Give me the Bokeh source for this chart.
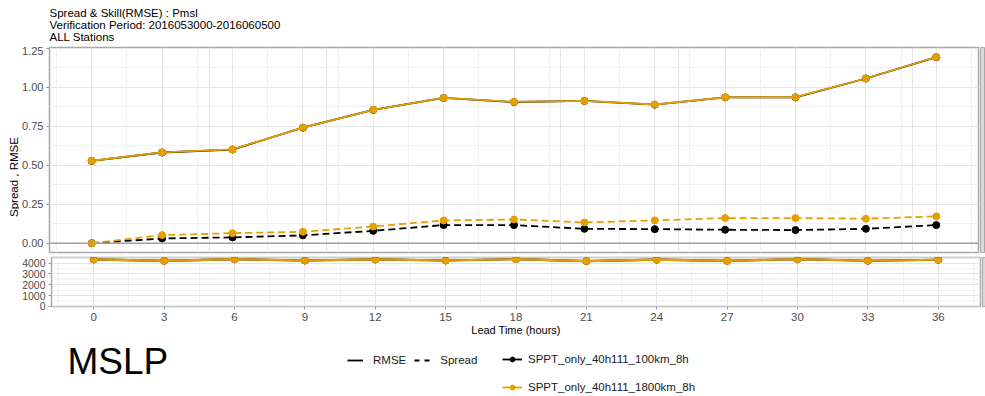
from bokeh.plotting import figure
from bokeh.layouts import column, row
from bokeh.models import (FixedTicker, PrintfTickFormatter, Range1d, Span, Label,
                          Legend, LegendItem, Grid)
from bokeh.embed import file_html
from bokeh.resources import INLINE

# ---------------- data ----------------
lead_time = [0, 3, 6, 9, 12, 15, 18, 21, 24, 27, 30, 33, 36]
rmse_100km = [0.528, 0.582, 0.601, 0.741, 0.855, 0.932, 0.906, 0.913, 0.889, 0.936, 0.936, 1.057, 1.194]
rmse_1800km = [0.529, 0.583, 0.602, 0.742, 0.856, 0.932, 0.907, 0.913, 0.890, 0.936, 0.937, 1.057, 1.195]
spread_100km = [0.0, 0.030, 0.037, 0.050, 0.079, 0.116, 0.116, 0.092, 0.090, 0.086, 0.084, 0.092, 0.116]
spread_1800km = [0.0, 0.052, 0.064, 0.073, 0.107, 0.146, 0.152, 0.133, 0.146, 0.161, 0.161, 0.157, 0.172]
count_100km = [4350, 4225, 4370, 4250, 4350, 4250, 4380, 4200, 4330, 4220, 4380, 4230, 4320]
count_1800km = [4350, 4225, 4370, 4250, 4350, 4250, 4380, 4200, 4330, 4220, 4380, 4230, 4320]

series_names = ["SPPT_only_40h111_100km_8h", "SPPT_only_40h111_1800km_8h"]
series_colors = ["#000000", "#E69F00"]

x_ticks = lead_time
x_minor = [-1.5, 1.5, 4.5, 7.5, 10.5, 13.5, 16.5, 19.5, 22.5, 25.5, 28.5, 31.5, 34.5, 37.5]
y_ticks_top = [0.0, 0.25, 0.5, 0.75, 1.0, 1.25]
y_minor_top = [0.125, 0.375, 0.625, 0.875, 1.125]
y_ticks_bottom = [0, 1000, 2000, 3000, 4000]
y_minor_bottom = [500, 1500, 2500, 3500, 4500]

title_lines = ["Spread & Skill(RMSE) : Pmsl",
               "Verification Period: 2016053000-2016060500",
               "ALL Stations"]
y_label = "Spread , RMSE"
x_label = "Lead Time (hours)"
big_label = "MSLP"
metric_names = ["RMSE", "Spread"]

# ---------------- style / layout constants ----------------
FONT = "Liberation Sans"
TICK_COL = "#4d4d4d"
GRID_MAJ = "#e6e6e6"
GRID_MIN = "#f1f1f1"
BORDER = "#a8a8a8"
LABEL_W = 19
LEFT = 30
RIGHT = 2
STRIP_W = 5
FRAME_W = 929
PAGE_W = LABEL_W + LEFT + FRAME_W + RIGHT + STRIP_W
TITLE_H = 46
A_TOP, A_FRAME, A_BOT = 1, 205, 3
B_TOP, B_FRAME, B_BOT = 2, 49, 33
PANELS_H = A_TOP + A_FRAME + A_BOT + B_TOP + B_FRAME + B_BOT
LEG_H = 395 - TITLE_H - PANELS_H

x_range = Range1d(-1.8, 37.8)


def blank(width, height):
    f = figure(width=width, height=height, x_range=(0, width), y_range=(0, height),
               output_backend="svg", toolbar_location=None, title=None,
               x_axis_location=None, y_axis_location=None,
               min_border_left=0, min_border_right=0, min_border_top=0, min_border_bottom=0)
    f.outline_line_color = None
    f.grid.visible = False
    return f


def style_axis(ax, size="11px"):
    ax.axis_line_color = None
    ax.major_tick_line_color = "#999999"
    ax.major_tick_out = 3
    ax.major_tick_in = 0
    ax.minor_tick_line_color = None
    ax.major_label_text_font = FONT
    ax.major_label_text_font_size = size
    ax.major_label_text_color = TICK_COL
    ax.major_label_standoff = 2


# ---------------- title block ----------------
pT = blank(PAGE_W, TITLE_H)
for k, t in enumerate(title_lines):
    pT.add_layout(Label(x=LABEL_W + LEFT, y=TITLE_H - 12 - 12 * k, text=t,
                        text_align="left", text_baseline="middle", text_font=FONT,
                        text_font_size="11.5px", text_color="#000000"))

# ---------------- y-axis title ----------------
pL = blank(LABEL_W, PANELS_H)
pL.add_layout(Label(x=13, y=PANELS_H - (A_TOP + (A_FRAME + A_BOT + B_TOP + B_FRAME) / 2),
                    text=y_label, angle=1.5707963, text_align="center", text_baseline="middle",
                    text_font=FONT, text_font_size="11.5px", text_color="#000000"))

# ---------------- top panel ----------------
pA = figure(frame_width=FRAME_W, frame_height=A_FRAME, x_range=x_range,
            y_range=Range1d(-0.06, 1.256), output_backend="svg",
            toolbar_location=None, title=None, x_axis_location=None,
            min_border_left=LEFT, min_border_right=RIGHT,
            min_border_top=A_TOP, min_border_bottom=A_BOT)
pA.outline_line_color = BORDER
pA.outline_line_width = 1.5
pA.yaxis.ticker = FixedTicker(ticks=y_ticks_top, minor_ticks=y_minor_top)
pA.yaxis.formatter = PrintfTickFormatter(format="%.2f")
pA.ygrid.grid_line_color = GRID_MAJ
pA.ygrid.minor_grid_line_color = GRID_MIN
pA.add_layout(Grid(dimension=0, ticker=FixedTicker(ticks=x_ticks, minor_ticks=x_minor),
                   grid_line_color=GRID_MAJ, minor_grid_line_color=GRID_MIN))
pA.add_layout(Span(location=0, dimension="width", line_color="#a0a0a0", line_width=1.5))
style_axis(pA.yaxis[0])

rmse = [rmse_100km, rmse_1800km]
spread = [spread_100km, spread_1800km]
for i in range(2):
    pA.line(lead_time, spread[i], line_color=series_colors[i], line_width=1.8, line_dash="7 4")
    pA.scatter(lead_time, spread[i], size=7, color=series_colors[i], marker="circle")
for i in range(2):
    pA.line(lead_time, rmse[i], line_color=series_colors[i], line_width=1.8)
    pA.scatter(lead_time, rmse[i], size=7, color=series_colors[i], marker="circle")

# ---------------- bottom panel ----------------
pB = figure(frame_width=FRAME_W, frame_height=B_FRAME, x_range=x_range,
            y_range=Range1d(-20, 4530), output_backend="svg",
            toolbar_location=None, title=None,
            min_border_left=LEFT, min_border_right=RIGHT,
            min_border_top=B_TOP, min_border_bottom=B_BOT)
pB.outline_line_color = BORDER
pB.outline_line_width = 1.5
pB.xaxis.ticker = FixedTicker(ticks=x_ticks, minor_ticks=x_minor)
pB.yaxis.ticker = FixedTicker(ticks=y_ticks_bottom, minor_ticks=y_minor_bottom)
pB.xgrid.grid_line_color = GRID_MAJ
pB.xgrid.minor_grid_line_color = GRID_MIN
pB.ygrid.grid_line_color = GRID_MAJ
pB.ygrid.minor_grid_line_color = GRID_MIN
style_axis(pB.xaxis[0], "11.5px")
style_axis(pB.yaxis[0], "10.5px")
pB.xaxis.axis_label = x_label
pB.xaxis.axis_label_text_font = FONT
pB.xaxis.axis_label_text_font_size = "11px"
pB.xaxis.axis_label_text_font_style = "normal"
pB.xaxis.axis_label_text_color = "#000000"
pB.xaxis.axis_label_standoff = 0

counts = [count_100km, count_1800km]
for i in range(2):
    pB.line(lead_time, counts[i], line_color=series_colors[i], line_width=2.2)
    pB.scatter(lead_time, counts[i], size=7, color=series_colors[i], marker="circle")


# ---------------- facet strips (cut off at right) ----------------
def strip(top, fh, bottom):
    s = figure(frame_width=STRIP_W, frame_height=fh, output_backend="svg",
               toolbar_location=None, title=None, x_axis_location=None, y_axis_location=None,
               min_border_left=0, min_border_right=0, min_border_top=top,
               min_border_bottom=bottom)
    s.background_fill_color = "#d9d9d9"
    s.outline_line_color = BORDER
    s.grid.visible = False
    return s


sA = strip(A_TOP, A_FRAME, A_BOT)
sB = strip(B_TOP, B_FRAME, B_BOT)

# ---------------- legend block ----------------
pC = blank(PAGE_W, LEG_H)
off = [-50, -40]  # dummy points kept outside the visible area
r_rmse = pC.line(x=off, y=off, line_color="#000000", line_width=1.8)
r_spread = pC.line(x=off, y=off, line_color="#000000", line_width=1.8, line_dash="5 5")
leg1 = Legend(items=[LegendItem(label=metric_names[0], renderers=[r_rmse]),
                     LegendItem(label=metric_names[1], renderers=[r_spread])],
              orientation="horizontal", location=(347, LEG_H - 27), glyph_width=16,
              glyph_height=12, label_height=12, label_standoff=10, spacing=8, padding=0,
              margin=0, label_text_font=FONT, label_text_font_size="11.5px",
              label_text_color="#1a1a1a", background_fill_alpha=0, border_line_alpha=0)
pC.add_layout(leg1, "center")

items2 = []
for i in range(2):
    rl = pC.line(x=off, y=off, line_color=series_colors[i], line_width=1.8)
    rs = pC.scatter(x=off, y=off, size=7, color=series_colors[i], marker="circle")
    items2.append(LegendItem(label=series_names[i], renderers=[rl, rs]))
leg2 = Legend(items=items2, orientation="vertical", location=(502, LEG_H - 54), glyph_width=20,
              glyph_height=12, label_height=12, label_standoff=6, spacing=16, padding=0,
              margin=0, label_text_font=FONT, label_text_font_size="11.5px",
              label_text_color="#1a1a1a", background_fill_alpha=0, border_line_alpha=0)
pC.add_layout(leg2, "center")

pC.add_layout(Label(x=67, y=LEG_H - 22, text=big_label, text_font=FONT, text_font_size="37px",
                    text_color="#000000", text_baseline="middle"))

layout = column(pT, row(pL, column(row(pA, sA), row(pB, sB))), pC)
open("out.html", "w").write(file_html(layout, INLINE))
